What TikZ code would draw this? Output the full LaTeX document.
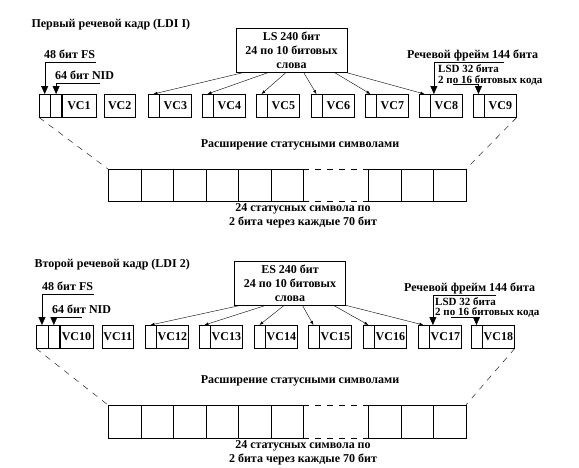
\documentclass[tikz,border=0pt]{standalone}
\usepackage{fontspec}
\setmainfont{Liberation Serif}
\usetikzlibrary{arrows.meta}

\begin{document}
\begin{tikzpicture}[x=1pt,y=-1pt,
  font=\bfseries\fontsize{12}{14}\selectfont,
  cell/.style={draw,inner sep=0pt,minimum height=23pt},
  slot/.style={cell,minimum width=10.5pt},
  vc/.style={cell,minimum width=32.5pt,font=\bfseries\fontsize{12}{14}\selectfont},
  sym/.style={draw,inner sep=0pt,minimum width=32.5pt,minimum height=32pt},
  lbl/.style={inner sep=1pt,text height=8pt,text depth=2pt},
  lsdtext/.style={inner sep=0pt,text height=7pt,text depth=0pt,font=\bfseries\fontsize{11}{12}\selectfont},
  words/.style={draw,inner sep=0pt,minimum width=111pt,minimum height=44pt,align=center},
  big/.style={-{Triangle[length=8pt,width=7pt]}},
  small/.style={-{Latex[length=4pt,width=3pt]}},
  gap/.style={dash pattern=on 6pt off 6pt}]
\useasboundingbox (0,0) rectangle (579,467);

% first speech frame
\node[anchor=west] (t1) at (28,25) {Первый речевой кадр (LDI I)};
\node[slot,anchor=north west,minimum width=11pt] (a1) at (39,94) {};
\node[slot,anchor=west,minimum width=11pt] (a2) at (a1.east) {};
\node[vc,anchor=west,minimum width=34pt] (v1) at (a2.east) {VC1};
\node[vc,anchor=north west,minimum width=31pt] (v2) at (104,94) {VC2};
\foreach \i/\x in {3/148,4/202,5/256,6/311,7/365,8/419,9/473} {
  \node[slot,anchor=north west] (s\i) at (\x,94) {};
  \node[vc,anchor=west] (v\i) at (s\i.east) {VC\i};
}
\node[words] (ls1) at (291.5,50.5) {LS 240 бит\\24 по 10 битовых\\слова};
\foreach \i/\d in {3/7,4/32,5/50,6/68,7/99,8/111}
  \draw[small] ([xshift=\d pt]ls1.south west) -- (s\i.north);

\node[lbl,anchor=south west] (fs1) at (43,62) {48 бит FS};
\draw[big] (fs1.south east) -| (a1.north);
\node[lbl,anchor=south west] (nid1) at (54,83) {64 бит NID};
\draw[big] ([xshift=-15pt]nid1.south east) -| (a2.north);
\node[lbl,anchor=south west] (fr1) at (406,62) {Речевой фрейм 144 бита};
\draw[big] ([xshift=-35pt]fr1.south east) -| ([xshift=4pt]v8.north west);
\node[lsdtext,anchor=base west] (lsd1) at (438,72.5) {LSD 32 бита};
\node[lsdtext,anchor=base west] (cd1) at (438,83) {2 по 16 битовых кода};
\draw[big] ([xshift=15pt,yshift=-1pt]cd1.south west) -| (s9.north);

\node (ext1) at (300,145) {Расширение статусными символами};
\foreach \i/\x in {1/108,2/140.5,3/173,4/205.5,5/238,6/270.5,7/368,8/400.5,9/433}
  \node[sym,anchor=north west] (b\i) at (\x,169) {};
\draw[gap] (b6.north east) -- (b7.north west);
\draw[gap] (b6.south east) -- (b7.south west);
\draw[gap] (a1.south west) -- (b1.north west);
\draw[gap] (v9.south east) -- (b9.north east);
\node[align=center] (n1) at (303,216) {24 статусных символа по\\2 бита через каждые 70 бит};

% second speech frame
\node[anchor=west] (t2) at (31,265) {Второй речевой кадр (LDI 2)};
\node[slot,anchor=north west,minimum width=11.5pt] (c1) at (36,325) {};
\node[slot,anchor=west,minimum width=11.5pt] (c2) at (c1.east) {};
\node[vc,anchor=west,minimum width=33pt] (w10) at (c2.east) {VC10};
\node[vc,anchor=north west,minimum width=31pt] (w11) at (102,325) {VC11};
\foreach \i/\x in {12/145,13/199,14/254,15/308,16/363,17/418,18/471} {
  \node[slot,anchor=north west] (r\i) at (\x,325) {};
  \node[vc,anchor=west] (w\i) at (r\i.east) {VC\i};
}
\node[words] (es2) at (290,283) {ES 240 бит\\24 по 10 битовых\\слова};
\foreach \i/\d in {12/7,13/32,14/50,15/68,16/99,17/111}
  \draw[small] ([xshift=\d pt]es2.south west) -- (r\i.north);

\node[lbl,anchor=south west] (fs2) at (41,294) {48 бит FS};
\draw[big] (fs2.south east) -| (c1.north);
\node[lbl,anchor=south west] (nid2) at (51,317) {64 бит NID};
\draw[big] ([xshift=-30pt]nid2.south east) -| (c2.north);
\node[lbl,anchor=south west] (fr2) at (403,295) {Речевой фрейм 144 бита};
\draw[big] ([xshift=-40pt]fr2.south east) -| ([xshift=4pt]w17.north west);
\node[lsdtext,anchor=base west] (lsd2) at (435,305) {LSD 32 бита};
\node[lsdtext,anchor=base west] (cd2) at (435,315.5) {2 по 16 битовых кода};
\draw[big] ([xshift=16pt,yshift=-1pt]cd2.south west) -| (r18.north);

\node (ext2) at (300,381) {Расширение статусными символами};
\foreach \i/\x in {1/108,2/140.5,3/173,4/205.5,5/238,6/270.5,7/368,8/400.5,9/433}
  \node[sym,anchor=north west,minimum height=33pt] (d\i) at (\x,405) {};
\draw[gap] (d6.north east) -- (d7.north west);
\draw[gap] (d6.south east) -- (d7.south west);
\draw[gap] (c1.south west) -- (d1.north west);
\draw[gap] (w18.south east) -- (d9.north east);
\node[align=center] (n2) at (303,453) {24 статусных символа по\\2 бита через каждые 70 бит};
\end{tikzpicture}
\end{document}
